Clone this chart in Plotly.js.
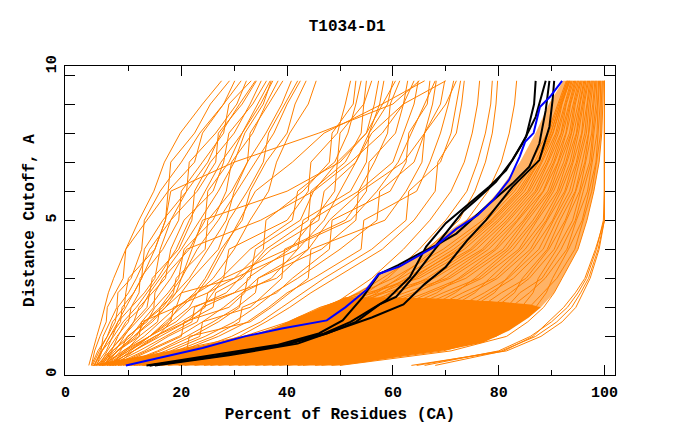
<!DOCTYPE html>
<html>
<head>
<meta charset="utf-8">
<script src="https://cdn.plot.ly/plotly-3.0.1.min.js"></script>
<style>html,body{margin:0;padding:0;background:#fff;}#chart{width:680px;height:440px;}</style>
</head>
<body>
<div id="chart"></div>
<script>
// Distance cutoffs (A) at which each model's percent of residues is read
const cutoffs = [0, 0.5, 1, 1.5, 2, 2.5, 3, 4, 5, 6, 7, 8, 9, 9.8];

// Main bundle of models (percent of residues at each cutoff)
const mainCurves = [
  [50.0, 71.0, 81.5, 85.5, 88.5, 90.5, 92.0, 95.0, 96.7, 98.0, 99.0, 99.5, 99.7, 99.8],
  [48.4, 69.5, 79.5, 84.2, 87.0, 89.0, 90.2, 93.2, 95.8, 97.1, 98.4, 98.8, 99.2, 99.3],
  [46.5, 67.0, 78.3, 82.0, 85.8, 88.4, 91.0, 94.4, 96.0, 97.6, 98.5, 99.3, 99.4, 99.6],
  [45.3, 65.8, 76.0, 81.0, 84.3, 86.5, 87.5, 91.0, 94.0, 95.5, 97.2, 97.8, 98.4, 98.6],
  [43.0, 64.0, 74.5, 79.5, 82.3, 85.8, 88.8, 92.9, 94.7, 96.8, 97.7, 98.6, 98.8, 99.1],
  [42.0, 61.5, 73.3, 77.5, 81.5, 84.0, 88.2, 91.8, 94.5, 96.0, 97.5, 98.0, 98.7, 98.9],
  [40.0, 60.3, 71.0, 76.4, 79.5, 83.0, 84.5, 89.2, 91.6, 94.5, 95.8, 97.0, 97.4, 97.9],
  [38.5, 58.0, 69.8, 74.2, 78.5, 82.2, 85.8, 90.5, 92.8, 95.3, 96.5, 97.6, 98.0, 98.4],
  [37.2, 56.0, 68.0, 73.3, 76.5, 80.5, 85.2, 89.5, 92.6, 94.6, 96.3, 97.1, 97.8, 98.2],
  [35.5, 54.8, 65.8, 71.6, 75.0, 79.2, 81.5, 86.5, 90.2, 92.7, 94.7, 95.8, 96.7, 97.2],
  [34.0, 52.5, 64.6, 69.5, 74.0, 78.5, 82.8, 88.4, 91.0, 93.9, 95.3, 96.6, 97.1, 97.7],
  [32.0, 51.2, 62.5, 68.5, 72.2, 77.3, 81.8, 87.6, 90.4, 93.4, 94.9, 96.3, 96.8, 97.5],
  [30.8, 49.0, 61.2, 66.5, 71.0, 75.5, 78.3, 84.2, 88.4, 91.4, 93.5, 94.8, 95.8, 96.5],
  [29.0, 47.5, 59.0, 65.3, 69.2, 74.8, 79.8, 86.0, 89.2, 92.5, 94.1, 95.7, 96.2, 97.0],
  [27.0, 45.8, 57.4, 63.8, 67.8, 73.2, 79.2, 85.0, 89.0, 91.8, 93.9, 95.1, 96.0, 96.8],
  [25.5, 43.8, 56.2, 61.8, 66.8, 71.8, 75.5, 82.0, 86.5, 90.0, 92.3, 93.8, 95.0, 95.8],
  [24.3, 41.5, 54.0, 60.6, 64.8, 71.0, 76.8, 83.8, 87.3, 91.1, 92.9, 94.7, 95.4, 96.3],
  [22.5, 40.2, 52.3, 59.0, 63.4, 69.5, 76.2, 82.7, 87.0, 90.4, 92.7, 94.2, 95.3, 96.1],
  [20.6, 38.4, 50.5, 57.5, 62.0, 68.3, 72.4, 79.6, 84.7, 88.5, 91.2, 92.8, 94.1, 95.1],
  [19.5, 36.0, 49.3, 55.5, 60.8, 67.0, 73.8, 81.5, 85.5, 89.7, 91.7, 93.7, 94.5, 95.6],
  [17.5, 34.7, 47.2, 54.3, 59.0, 66.2, 72.8, 80.8, 85.0, 89.3, 91.3, 93.4, 94.3, 95.4],
  [16.2, 32.4, 45.9, 52.4, 57.9, 64.5, 69.3, 77.3, 82.9, 87.2, 90.0, 91.9, 93.3, 94.4],
  [14.0, 31.0, 43.8, 51.2, 56.0, 63.8, 70.8, 79.2, 83.7, 88.4, 90.6, 92.7, 93.6, 94.9],
  [12.8, 28.8, 42.5, 49.2, 55.0, 62.2, 70.2, 78.1, 83.5, 87.7, 90.4, 92.2, 93.5, 94.6],
  [11.0, 27.3, 40.2, 48.0, 53.5, 60.8, 66.4, 75.0, 81.0, 85.8, 88.8, 91.0, 92.5, 93.7],
  [9.6, 25.0, 39.0, 46.0, 52.0, 60.2, 67.8, 76.9, 82.0, 86.9, 89.4, 91.8, 92.8, 94.2],
  [8.0, 23.2, 37.4, 44.5, 50.6, 58.5, 67.2, 75.8, 81.6, 86.3, 89.2, 91.3, 92.7, 93.9],
  [6.3, 21.8, 35.2, 43.3, 48.7, 57.8, 64.3, 73.5, 79.8, 84.9, 88.0, 90.3, 91.9, 93.2],
  [4.5, 20.0, 33.5, 41.8, 47.2, 56.4, 63.2, 72.8, 79.2, 84.4, 87.6, 89.9, 91.6, 93.0],
  [3.2, 18.2, 31.8, 40.2, 46.2, 55.2, 65.0, 74.6, 80.2, 85.5, 88.2, 90.8, 92.0, 93.4],
  [5.0, 19.0, 33.0, 41.0, 46.5, 54.0, 60.0, 69.5, 77.0, 82.5, 86.2, 89.2, 91.2, 92.8],
  [7.0, 22.0, 36.0, 44.0, 49.5, 56.0, 61.5, 70.5, 77.8, 83.0, 86.8, 89.5, 91.4, 93.0],
  [10.0, 26.5, 39.5, 47.0, 52.5, 58.0, 62.5, 71.5, 78.5, 83.6, 87.2, 89.8, 91.7, 93.3],
  [14.5, 30.0, 43.0, 50.0, 54.5, 59.5, 63.8, 72.2, 78.8, 84.0, 87.5, 90.2, 91.9, 93.5]
];

// Best few models reaching 100% near 5 A
const bestCurves = [
  [63.5, 81.5, 88.0, 92.0, 94.6, 96.0, 97.3, 99.0, 100, 100, 100, 100, 100, 100],
  [64.5, 80.5, 87.0, 91.0, 93.8, 95.5, 97.0, 98.8, 100, 100, 100, 100, 100, 100],
  [66.0, 80.0, 86.0, 90.0, 93.0, 95.0, 96.6, 98.5, 99.8, 100, 100, 100, 100, 100],
  [68.0, 81.0, 86.5, 89.5, 92.3, 94.5, 96.3, 98.3, 100, 100, 100, 100, 100, 100]
];

// Poor models rising steeply on the left
const fanCurves = [
  [2.5, 3.2, 4.0, 4.8, 5.5, 6.2, 7.2, 9.5, 12.0, 14.8, 16.8, 19.8, 24.0, 27.6],
  [3.0, 3.6, 4.6, 5.8, 6.0, 7.5, 9.0, 9.5, 13.5, 17.5, 18.0, 22.5, 25.5, 29.1],
  [3.5, 4.8, 5.2, 6.5, 7.8, 8.0, 10.5, 12.5, 13.0, 16.0, 20.0, 23.5, 28.0, 30.1],
  [3.0, 4.2, 6.0, 7.0, 9.2, 9.5, 10.0, 15.0, 17.0, 17.5, 22.5, 24.0, 28.0, 31.3],
  [4.0, 5.0, 6.5, 8.5, 8.8, 11.0, 12.5, 13.0, 16.5, 21.0, 21.5, 26.5, 30.5, 32.3],
  [3.8, 5.8, 7.0, 8.0, 10.5, 12.0, 12.2, 16.5, 19.5, 20.0, 24.0, 28.0, 29.0, 33.2],
  [4.5, 6.0, 7.8, 10.0, 10.5, 13.0, 15.0, 16.0, 18.0, 23.0, 26.5, 27.0, 31.5, 34.2],
  [5.0, 6.8, 8.0, 9.5, 12.5, 14.0, 14.5, 19.5, 22.0, 22.5, 25.5, 30.0, 33.0, 35.1],
  [4.2, 7.5, 9.2, 11.0, 12.0, 14.5, 17.0, 18.0, 20.5, 26.0, 28.0, 29.0, 33.5, 36.1],
  [5.5, 7.0, 10.5, 12.5, 14.8, 15.0, 16.5, 21.5, 24.5, 25.0, 29.0, 31.5, 35.0, 37.3],
  [6.0, 8.5, 9.8, 13.5, 15.0, 17.5, 19.5, 20.5, 26.0, 28.5, 29.5, 33.5, 36.0, 38.3],
  [5.2, 8.0, 11.5, 13.0, 16.5, 18.5, 19.0, 24.5, 25.0, 29.5, 32.5, 33.0, 36.5, 39.2],
  [6.5, 9.5, 12.0, 15.5, 16.0, 19.0, 21.5, 25.0, 28.5, 30.0, 32.5, 36.0, 39.0, 40.8],
  [7.0, 9.0, 13.0, 16.0, 19.0, 20.0, 22.0, 27.0, 29.0, 32.5, 35.5, 36.5, 39.5, 42.0],
  [6.8, 10.5, 14.0, 17.5, 19.5, 22.5, 24.5, 27.5, 31.5, 33.0, 36.0, 40.0, 41.5, 43.6],
  [7.5, 11.0, 15.5, 18.0, 21.5, 23.0, 26.0, 30.0, 33.0, 36.5, 38.0, 40.5, 44.0, 45.5],
  [3.2, 4.5, 6.0, 7.5, 8.0, 10.0, 11.5, 14.0, 18.0, 21.0, 25.0, 27.5, 31.0, 34.0],
  [4.8, 6.5, 8.8, 11.0, 13.5, 14.0, 16.0, 20.0, 23.5, 27.0, 30.0, 32.0, 35.5, 37.0],
  [5.8, 7.8, 11.0, 14.5, 17.0, 19.0, 20.0, 23.0, 27.0, 30.5, 34.0, 37.5, 40.0, 42.5],
  [3.6, 5.0, 7.2, 9.0, 11.5, 13.5, 15.5, 19.0, 21.5, 24.5, 27.5, 31.5, 34.5, 36.8]
];

// Intermediate models
const midCurves = [
  [5.0, 9.0, 14.0, 18.0, 18.5, 25.0, 28.0, 29.0, 40.0, 44.0, 44.5, 49.5, 51.0, 52.0],
  [6.0, 11.0, 15.0, 20.0, 24.5, 25.0, 30.0, 35.5, 36.0, 43.0, 48.0, 48.5, 52.5, 53.0],
  [4.5, 8.0, 12.0, 12.5, 19.0, 23.0, 27.5, 33.0, 41.0, 42.0, 49.0, 51.5, 53.0, 54.0],
  [7.0, 13.0, 17.5, 23.0, 24.0, 30.0, 33.0, 34.0, 42.5, 45.0, 49.5, 50.0, 54.5, 55.0],
  [5.5, 10.0, 15.0, 21.0, 26.0, 26.5, 31.5, 36.0, 44.0, 44.5, 51.0, 54.0, 54.5, 56.0],
  [8.0, 14.0, 20.0, 20.5, 29.0, 32.0, 32.5, 40.5, 45.0, 49.0, 49.5, 55.0, 56.5, 57.3],
  [6.5, 12.0, 17.0, 22.0, 22.5, 28.5, 31.0, 37.0, 46.0, 47.0, 53.0, 55.5, 57.5, 58.3],
  [9.0, 16.0, 22.0, 27.0, 31.0, 31.5, 37.0, 42.0, 43.0, 52.0, 55.0, 55.5, 59.0, 60.0],
  [7.5, 13.5, 19.5, 24.0, 28.0, 31.5, 34.5, 44.0, 44.5, 53.5, 56.5, 59.0, 59.5, 61.3],
  [10.0, 17.0, 23.5, 24.0, 33.0, 36.0, 39.0, 39.5, 51.0, 55.0, 55.5, 60.5, 62.0, 62.8],
  [8.5, 15.5, 21.0, 26.0, 30.5, 34.0, 34.5, 46.5, 53.0, 53.5, 60.0, 62.0, 64.0, 64.8],
  [11.0, 19.0, 26.0, 31.0, 31.5, 38.0, 41.0, 48.0, 48.5, 59.5, 62.5, 63.0, 66.5, 67.0],
  [9.5, 18.0, 24.5, 30.0, 34.0, 37.5, 42.0, 50.0, 57.0, 57.5, 64.0, 66.0, 67.5, 68.2],
  [12.0, 21.0, 21.5, 33.0, 37.0, 40.5, 44.0, 44.5, 58.5, 62.5, 65.5, 66.0, 69.0, 69.8],
  [10.5, 20.0, 27.0, 32.5, 36.5, 40.0, 45.0, 54.0, 54.5, 64.5, 67.0, 69.0, 70.5, 71.5],
  [13.0, 22.0, 29.5, 35.0, 39.0, 43.0, 47.0, 56.0, 62.5, 63.0, 69.0, 71.0, 72.0, 72.8],
  [11.5, 23.0, 31.0, 36.0, 40.5, 44.5, 49.0, 58.0, 64.0, 68.0, 68.5, 72.0, 73.0, 73.5],
  [13.5, 26.0, 36.0, 43.0, 48.0, 52.0, 56.0, 62.0, 67.0, 71.0, 73.5, 75.0, 76.0, 76.4],
  [14.5, 28.0, 38.0, 45.0, 50.5, 55.0, 59.0, 65.0, 70.0, 74.0, 76.0, 77.5, 78.5, 78.8],
  [12.5, 25.0, 35.0, 42.0, 47.5, 53.5, 58.0, 66.5, 72.5, 75.5, 77.5, 78.8, 79.5, 79.8],
  [15.0, 30.0, 40.0, 47.0, 52.0, 57.0, 61.0, 68.0, 74.0, 78.0, 80.5, 82.0, 83.0, 83.4],
  [3.5, 5.0, 6.5, 8.0, 9.5, 11.0, 12.5, 15.0, 17.0, 18.0, 30.0, 46.0, 60.0, 65.0],
  [4.0, 6.5, 9.0, 11.5, 14.0, 16.0, 18.0, 21.0, 35.0, 45.0, 52.0, 58.0, 62.0, 64.0],
  [5.0, 8.0, 11.0, 14.0, 17.0, 20.0, 30.0, 42.0, 47.0, 50.0, 53.0, 56.0, 62.0, 70.0],
  [6.0, 10.0, 14.0, 17.0, 20.0, 23.0, 25.0, 28.0, 31.0, 34.0, 41.0, 47.0, 58.0, 66.0],
  [4.0, 7.0, 10.0, 13.0, 16.0, 18.0, 20.0, 22.0, 24.0, 40.0, 50.0, 55.0, 58.0, 60.5],
  [6.0, 11.0, 16.0, 21.0, 24.0, 26.0, 28.0, 40.0, 52.0, 57.0, 61.0, 63.5, 66.0, 68.0],
  [5.0, 9.5, 14.0, 19.0, 22.0, 30.0, 38.0, 44.0, 48.0, 54.0, 62.0, 66.0, 70.0, 72.0]
];

// Outline of the solid low-cutoff band (percent, cutoff)
const bandX = [3, 20, 35, 48, 50, 55, 60.6, 70, 77, 82, 85.7, 88.0, 86, 80, 70, 60, 51, 46, 42, 36, 30, 23, 16, 10.6, 6, 3];
const bandY = [0, 0, 0, 0, 0, 0.12, 0.29, 0.52, 0.78, 1.2, 1.65, 2.0, 2.1, 2.2, 2.3, 2.35, 2.35, 1.95, 1.67, 1.15, 0.9, 0.63, 0.42, 0.27, 0.12, 0];

// Outline of the densely hatched region of the main bundle (percent, cutoff)
const hatchX = [44, 47.5, 51, 55, 57.5, 62, 66, 72, 76.5, 80, 84, 87, 89.5, 92.2, 99.8, 99.7, 99.5, 99.0, 98.0, 96.7, 95.0, 92.0, 90.5, 88.0, 80, 70, 60, 51, 44];
const hatchY = [1.75, 1.9, 2.3, 2.7, 3.2, 3.5, 4.0, 4.8, 5.3, 6.0, 7.0, 8.0, 9.0, 9.8, 9.8, 9.0, 8.0, 7.0, 6.0, 5.0, 4.0, 3.0, 2.5, 2.0, 2.2, 2.3, 2.35, 2.35, 1.75];

// Highlighted models (black) and the reference model (blue)
const black1X = [13.4, 24, 38, 46, 50.5, 54.3, 57.4, 61, 65, 68.2, 73.2, 75.7, 79.5, 82.6, 85.2, 86.7, 87];
const black1Y = [0, 0.3, 0.7, 1.1, 1.55, 2.35, 3.15, 3.45, 3.85, 4.14, 5.29, 5.69, 6.32, 7.07, 7.88, 9.0, 9.8];
const black2X = [14, 26, 39, 47, 52, 58.7, 63.2, 66.3, 70, 74, 78.2, 81.4, 84.5, 87, 88.9];
const black2Y = [0, 0.3, 0.7, 1.1, 1.5, 2.24, 3.04, 4.09, 4.9, 5.5, 6.15, 6.72, 7.64, 8.56, 9.8];
const black3X = [14, 27, 40, 47.5, 53, 57.5, 60.6, 64.4, 68.8, 72, 78.2, 82.6, 85.8, 87.7, 88.9, 89.6];
const black3Y = [0, 0.32, 0.72, 1.1, 1.5, 2.1, 2.36, 3.16, 4.2, 4.54, 5.57, 6.26, 6.84, 7.64, 8.79, 9.8];
const black4X = [15, 29, 42, 49, 56, 62, 66, 70, 74, 77.6, 82.6, 87.7, 89.6, 90.2, 90.5];
const black4Y = [0, 0.35, 0.75, 1.2, 1.65, 2.1, 2.8, 3.39, 4.3, 5.0, 6.15, 7.07, 8.22, 9.14, 9.8];
const blueX = [9.5, 17, 24, 32, 39, 47.5, 51, 55, 57.3, 61.3, 65, 68, 72, 76, 79, 82, 84, 85, 86.6, 87.8, 89.7, 92];
const blueY = [0, 0.3, 0.6, 1.0, 1.27, 1.55, 2.0, 2.6, 3.15, 3.41, 3.8, 4.1, 4.7, 5.17, 5.7, 6.4, 7.2, 7.7, 8.0, 8.9, 9.25, 9.8];

// Axis tick labels
const xTickVals = [-1.9, 20, 40, 60, 80, 100];
const xTickText = ['0', '20', '40', '60', '80', '100'];
const xMinorVals = [10, 30, 50, 70, 90];
const yTickVals = [-0.31, 5, 10.29];
const yTickText = ['0', '5', '10'];
const yMinorVals = [1, 2, 3, 4, 6, 7, 8, 9, 10];

const ORANGE = '#FF8000';
const traces = [];
traces.push({x: hatchX, y: hatchY, mode: 'lines', fill: 'toself', fillcolor: 'rgba(255,128,0,0.6)',
  line: {width: 0, color: ORANGE}, hoverinfo: 'skip', showlegend: false});
traces.push({x: bandX, y: bandY, mode: 'lines', fill: 'toself', fillcolor: ORANGE,
  line: {width: 0, color: ORANGE}, hoverinfo: 'skip', showlegend: false});
[fanCurves, midCurves, mainCurves, bestCurves].forEach(group => {
  group.forEach(c => traces.push({x: c, y: cutoffs, mode: 'lines',
    line: {color: ORANGE, width: 1}, hoverinfo: 'skip', showlegend: false}));
});
[[black1X, black1Y], [black2X, black2Y], [black3X, black3Y], [black4X, black4Y]].forEach(([bx, by]) => {
  traces.push({x: bx, y: by, mode: 'lines', line: {color: '#000000', width: 2}, hoverinfo: 'skip', showlegend: false});
});
traces.push({x: blueX, y: blueY, mode: 'lines', line: {color: '#0000FF', width: 2}, hoverinfo: 'skip', showlegend: false});

const FONT = {family: '"Liberation Mono", "DejaVu Sans Mono", monospace', color: '#000', weight: 'bold'};

const layout = {
  width: 680, height: 440,
  margin: {l: 65, r: 65, t: 66, b: 65},
  paper_bgcolor: '#fff', plot_bgcolor: '#fff',
  showlegend: false,
  title: {text: 'T1034-D1', font: Object.assign({}, FONT, {size: 16}),
    x: 0.513, xanchor: 'center', xref: 'paper', y: 0.942, yanchor: 'middle', yref: 'container'},
  xaxis: {
    range: [-2, 102], showgrid: false, zeroline: false,
    showline: true, linecolor: '#000', linewidth: 1, mirror: 'allticks',
    tickmode: 'array', tickvals: xTickVals, ticktext: xTickText,
    ticks: 'inside', ticklen: 10, tickcolor: '#000', tickwidth: 1,
    minor: {tickmode: 'array', tickvals: xMinorVals, ticks: 'inside', ticklen: 5, tickcolor: '#000', tickwidth: 1, showgrid: false},
    tickfont: Object.assign({}, FONT, {size: 15}),
    ticklabelstandoff: 3,
    title: {text: 'Percent of Residues (CA)', font: Object.assign({}, FONT, {size: 16}), standoff: 6}
  },
  yaxis: {
    range: [-0.33, 10.31], showgrid: false, zeroline: false,
    showline: true, linecolor: '#000', linewidth: 1, mirror: 'allticks',
    tickmode: 'array', tickvals: yTickVals, ticktext: yTickText, tickangle: -90,
    ticks: 'inside', ticklen: 10, tickcolor: '#000', tickwidth: 1,
    minor: {tickmode: 'array', tickvals: yMinorVals, ticks: 'inside', ticklen: 10, tickcolor: '#000', tickwidth: 1, showgrid: false},
    tickfont: Object.assign({}, FONT, {size: 15}),
    ticklabelstandoff: 2,
    title: {text: 'Distance Cutoff, A', font: Object.assign({}, FONT, {size: 16}), standoff: 5}
  }
};

Plotly.newPlot('chart', traces, layout, {staticPlot: true, displayModeBar: false});
</script>
</body>
</html>
